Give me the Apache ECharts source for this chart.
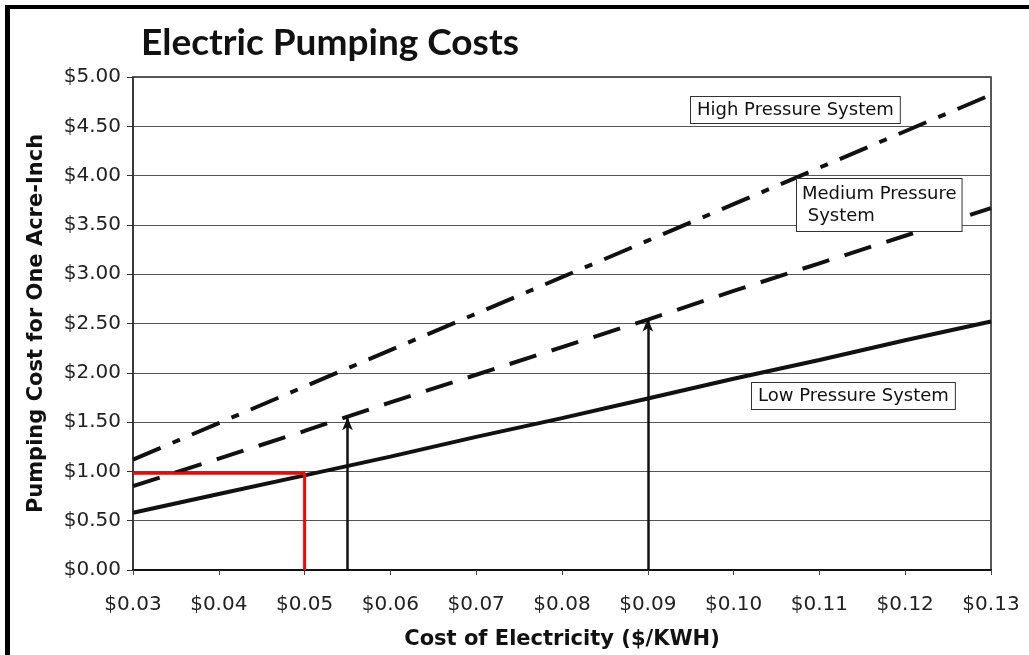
<!DOCTYPE html>
<html>
<head>
<meta charset="utf-8">
<script src="https://cdn.jsdelivr.net/npm/echarts@6/dist/echarts.min.js"></script>
<style>
html,body{margin:0;padding:0;background:#fff;}
#frame{position:absolute;left:5px;top:5px;width:1024px;height:650px;border-top:4px solid #000;border-left:5px solid #000;box-sizing:border-box;}
#chart{position:absolute;left:0;top:0;width:1029px;height:655px;}
</style>
</head>
<body>
<div id="frame"></div>
<div id="chart"></div>
<script>
// ---- data ----
const xValues = [0.03, 0.04, 0.05, 0.06, 0.07, 0.08, 0.09, 0.10, 0.11, 0.12, 0.13];
const lowPressure    = [0.58, 0.77, 0.96, 1.15, 1.35, 1.54, 1.74, 1.94, 2.13, 2.33, 2.52];
const mediumPressure = [0.85, 1.13, 1.41, 1.70, 1.98, 2.26, 2.54, 2.83, 3.11, 3.39, 3.67];
const highPressure   = [1.12, 1.49, 1.86, 2.23, 2.60, 2.97, 3.34, 3.71, 4.08, 4.45, 4.82];
const redGuideX = [0.03, 0.05, 0.05];
const redGuideY = [0.98, 0.98, 0.00];
const arrowX = [0.055, 0.09];
const arrowTopY = [1.55, 2.55];
const seriesNames = ['Low Pressure System', 'Medium Pressure\n System', 'High Pressure System'];

const pair = (xs, ys) => xs.map((x, i) => [x, ys[i]]);
const money = v => '$' + v.toFixed(2);

const chart = echarts.init(document.getElementById('chart'));
const font = 'DejaVu Sans, Verdana, sans-serif';
const lineBase = {type: 'line', showSymbol: false, symbol: 'none', silent: true, z: 5};

chart.setOption({
  animation: false,
  backgroundColor: 'transparent',
  title: {
    text: 'Electric Pumping Costs',
    left: 136, top: 20,
    textStyle: {fontFamily: 'Lato, sans-serif', fontWeight: 'bold', fontSize: 37, color: '#111'}
  },
  grid: {left: 133, right: 38, top: 77, bottom: 85, show: true, borderColor: '#222', borderWidth: 1.5},
  xAxis: {
    type: 'value', min: 0.03, max: 0.13, interval: 0.01,
    name: 'Cost of Electricity ($/KWH)', nameLocation: 'middle', nameGap: 59,
    nameTextStyle: {fontFamily: font, fontWeight: 'bold', fontSize: 21, color: '#111'},
    axisLine: {lineStyle: {color: '#111', width: 2}},
    axisTick: {show: true, length: 5, lineStyle: {color: '#444'}},
    axisLabel: {formatter: v => money(v), fontFamily: font, fontSize: 20, color: '#222', margin: 25},
    splitLine: {show: false}
  },
  yAxis: {
    type: 'value', min: 0, max: 5, interval: 0.5,
    name: 'Pumping Cost for One Acre-Inch', nameLocation: 'middle', nameGap: 86,
    nameTextStyle: {fontFamily: font, fontWeight: 'bold', fontSize: 21, color: '#111'},
    axisLine: {show: true, lineStyle: {color: '#333', width: 1.5}},
    axisTick: {show: true, length: 6, lineStyle: {color: '#333'}},
    axisLabel: {formatter: v => money(v), fontFamily: font, fontSize: 20, color: '#222', margin: 12},
    splitLine: {show: true, lineStyle: {color: '#555', width: 1}}
  },
  series: [
    Object.assign({}, lineBase, {
      name: seriesNames[0], data: pair(xValues, lowPressure),
      lineStyle: {color: '#111', width: 4}
    }),
    Object.assign({}, lineBase, {
      name: seriesNames[1], data: pair(xValues, mediumPressure),
      lineStyle: {color: '#111', width: 4, type: [28, 16]}
    }),
    Object.assign({}, lineBase, {
      name: seriesNames[2], data: pair(xValues, highPressure),
      lineStyle: {color: '#111', width: 4, type: [30, 13, 8, 13]}
    }),
    Object.assign({}, lineBase, {
      name: 'guide', data: pair(redGuideX, redGuideY), z: 6,
      lineStyle: {color: '#ff0000', width: 3}
    }),
    {
      type: 'line', data: [], silent: true, z: 7,
      markLine: {
        silent: true, animation: false,
        symbol: ['none', 'arrow'], symbolSize: [8, 13],
        label: {show: false},
        lineStyle: {color: '#111', width: 2.5, type: 'solid'},
        data: arrowX.map((x, i) => [{coord: [x, 0]}, {coord: [x, arrowTopY[i]]}])
      }
    }
  ],
  graphic: [
    {type: 'text', left: 690, top: 96, z: 10, style: {text: seriesNames[2], font: '18px ' + font, fill: '#111', backgroundColor: '#fff', borderColor: '#333', borderWidth: 1, padding: [4, 6, 4, 6]}},
    {type: 'text', left: 796, top: 178, z: 10, style: {text: seriesNames[1], font: '18px ' + font, fill: '#111', lineHeight: 22, backgroundColor: '#fff', borderColor: '#333', borderWidth: 1, padding: [4, 5, 4, 5]}},
    {type: 'text', left: 751, top: 382, z: 10, style: {text: seriesNames[0], font: '18px ' + font, fill: '#111', backgroundColor: '#fff', borderColor: '#333', borderWidth: 1, padding: [4, 6, 4, 6]}}
  ]
});
</script>
</body>
</html>
